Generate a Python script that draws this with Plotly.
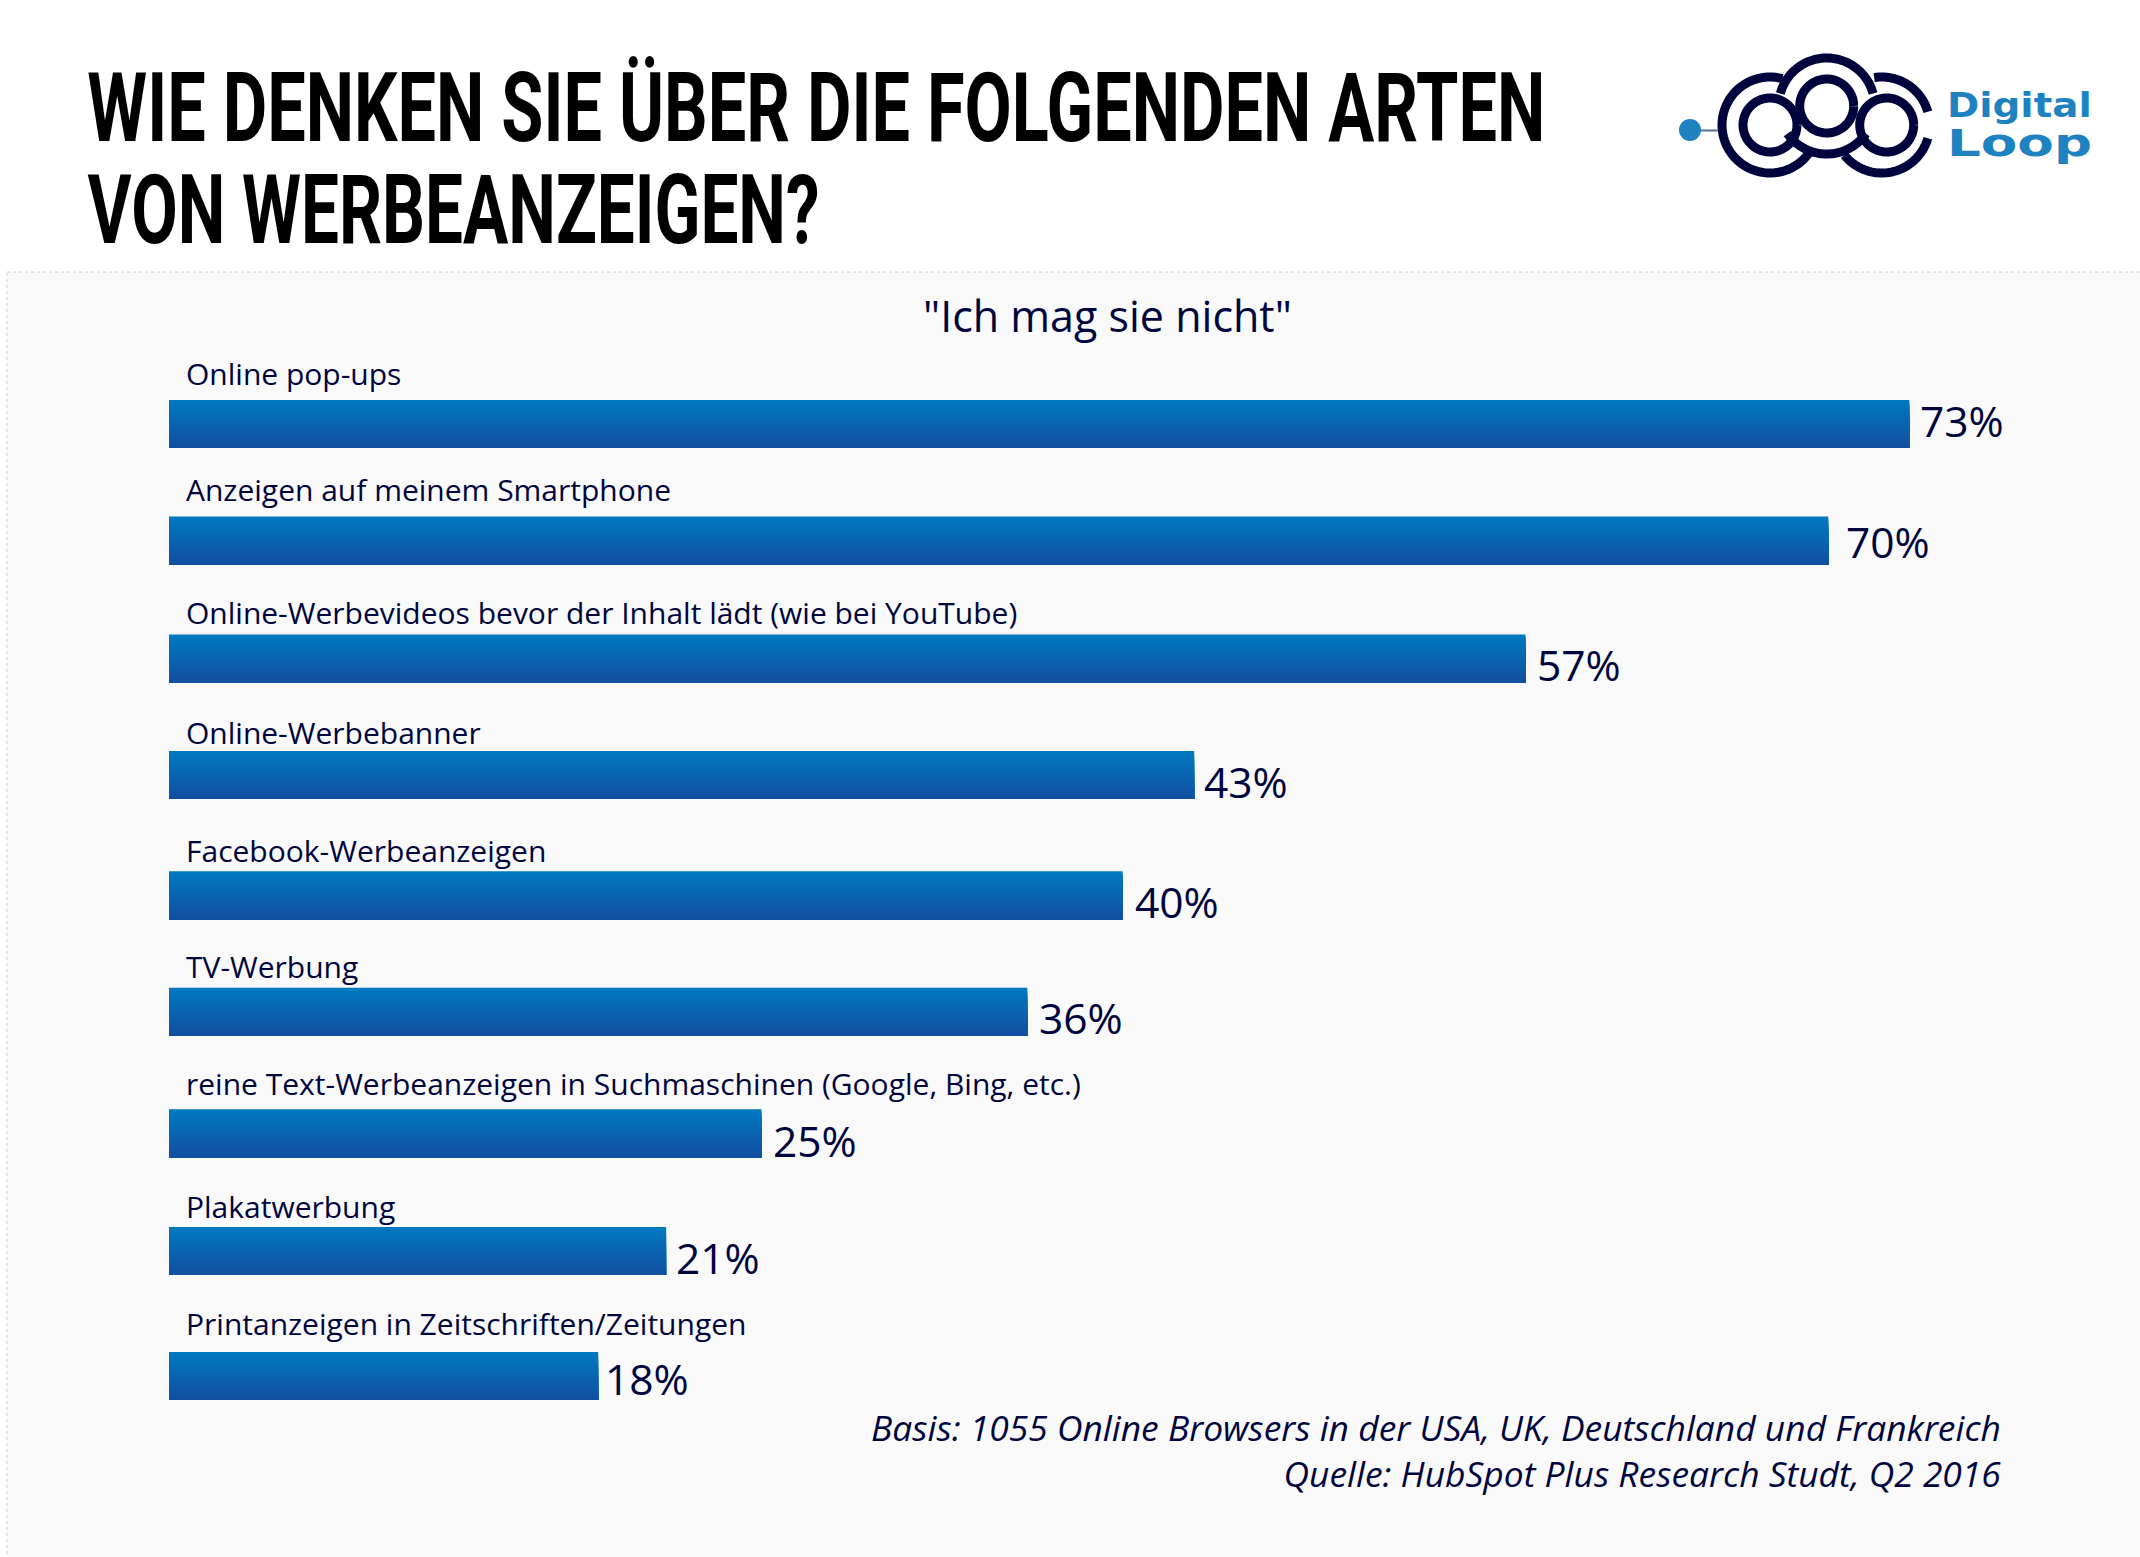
import numpy as np
import plotly.graph_objects as go

categories = [
    "Online pop-ups",
    "Anzeigen auf meinem Smartphone",
    "Online-Werbevideos bevor der Inhalt lädt (wie bei YouTube)",
    "Online-Werbebanner",
    "Facebook-Werbeanzeigen",
    "TV-Werbung",
    "reine Text-Werbeanzeigen in Suchmaschinen (Google, Bing, etc.)",
    "Plakatwerbung",
    "Printanzeigen in Zeitschriften/Zeitungen",
]
# bar lengths, the printed labels are rounded
values = [73, 69.6, 56.9, 43, 40, 36, 24.85, 20.85, 18]
value_labels = ["73%", "70%", "57%", "43%", "40%", "36%", "25%", "21%", "18%"]

# rows are not evenly spaced in the original
row_pos = [0, 0.98, 1.97, 2.95, 3.96, 4.94, 5.96, 6.95, 8]
label_lift = [51, 51, 46, 43, 45, 45, 50, 45, 53]
value_nudge_x = [9, 16, 9, 8, 10, 10, 10, 8, 5]
value_nudge_y = [4, -1, -6, -6, -6, -6, -7, -6, -2]

W, H = 2140, 1557
NAVY = "#00053e"
BLUE = "#1f82c0"
UNIT_PX = 23.84   # one percent
ROW_PX = 119
X0_PX = 169
ROW0_PX = 424
BAR_ROWS = 48 / ROW_PX
STRIPS = 24

fig = go.Figure()

# plotly bars have no gradient fill, so paint overlapping strips top to bottom
c_top = np.array([0, 121, 193])
c_bot = np.array([19, 79, 160])
for i in range(STRIPS):
    t = i / (STRIPS - 1)
    c = (c_top + (c_bot - c_top) * t).round().astype(int)
    start = BAR_ROWS * i / STRIPS
    fig.add_trace(go.Bar(
        x=values,
        y=row_pos,
        orientation='h',
        offset=-BAR_ROWS / 2 + start,
        width=BAR_ROWS - start,
        marker=dict(color=f"rgb({c[0]},{c[1]},{c[2]})", line=dict(width=0)),
        showlegend=False,
        hoverinfo='skip',
    ))

for name, r, lift in zip(categories, row_pos, label_lift):
    fig.add_annotation(
        x=0, y=r, xref='x', yref='y', text=name, showarrow=False,
        xanchor='left', yanchor='middle', xshift=14.5, yshift=lift,
        font=dict(family="Open Sans", size=30, color=NAVY),
    )

for v, lab, r, dx, dy in zip(values, value_labels, row_pos, value_nudge_x, value_nudge_y):
    fig.add_annotation(
        x=v, y=r, xref='x', yref='y', text=lab, showarrow=False,
        xanchor='left', yanchor='middle', xshift=dx, yshift=dy,
        font=dict(family="Open Sans", size=42.5, color=NAVY),
    )


def px(x):
    return x / W


def py(y):
    return 1 - y / H


def text_at(x, y, text, size, family="Open Sans", color=NAVY, anchor='left', weight=None):
    fig.add_annotation(
        x=px(x), y=py(y), xref='paper', yref='paper', text=text, showarrow=False,
        xanchor=anchor, yanchor='middle', align=anchor,
        font=dict(family=family, size=size, color=color, weight=weight),
    )


text_at(1107, 315, '"Ich mag sie nicht"', 43, anchor='center')
text_at(2003, 1450,
        "<i>Basis: 1055 Online Browsers in der USA, UK, Deutschland und Frankreich</i><br>"
        "<i>Quelle: HubSpot Plus Research Studt, Q2 2016</i>",
        35.4, anchor='right')

# title
TITLE_1 = "WIE DENKEN SIE ÜBER DIE FOLGENDEN ARTEN"
TITLE_2 = "VON WERBEANZEIGEN?"
text_at(816, 108, TITLE_1, 97, family="Roboto", color="#000000", anchor='center', weight=700)
text_at(453, 210, TITLE_2, 97, family="Roboto", color="#000000", anchor='center', weight=700)

# grey panel behind the chart
shapes = [dict(
    type='rect', xref='paper', yref='paper', x0=px(7), y0=py(272), x1=1.01, y1=-0.01,
    fillcolor="#f9f9f9", line=dict(color="#ccccdd", width=1, dash='dot'), layer='below',
)]


def arc(cx, cy, r, a0, a1):
    a = np.radians(np.linspace(a0, a1, 60))
    xs = cx + r * np.cos(a)
    ys = cy - r * np.sin(a)
    return "M" + "L".join(f"{px(x):.5f},{py(y):.5f}" for x, y in zip(xs, ys))


# logo
LOGO = "#00043c"
logo_arcs = [
    (1770, 125, 48, 75, 327),
    (1826.7, 106, 48, 15, 165),
    (1826.7, 106, 48, 215, 325),
    (1881.7, 125, 48, 16, 99),
    (1881.7, 125, 48, -141, -16),
    (1770, 125, 27, 0, 360),
    (1826.7, 106, 27, 0, 360),
    (1886.7, 125, 27, 0, 360),
]
for cx, cy, r, a0, a1 in logo_arcs:
    shapes.append(dict(type='path', xref='paper', yref='paper', path=arc(cx, cy, r, a0, a1),
                       line=dict(color=LOGO, width=9)))
shapes.append(dict(type='line', xref='paper', yref='paper', x0=px(1700), y0=py(130.5), x1=px(1718), y1=py(130.5),
                   line=dict(color="#5a6a90", width=2)))
shapes.append(dict(type='circle', xref='paper', yref='paper', x0=px(1679), y0=py(141), x1=px(1701), y1=py(119),
                   fillcolor=BLUE, line=dict(width=0)))
text_at(2019.5, 105, "Digital", 34, family="DejaVu Sans", color=BLUE, anchor='center', weight=700)
text_at(2019.5, 144, "Loop", 37, family="DejaVu Sans", color=BLUE, anchor='center', weight=700)

fig.update_layout(
    width=W,
    height=H,
    margin=dict(l=0, r=0, t=0, b=0),
    paper_bgcolor="white",
    plot_bgcolor="rgba(0,0,0,0)",
    barmode='overlay',
    shapes=shapes,
    showlegend=False,
    xaxis=dict(range=[-X0_PX / UNIT_PX, (W - X0_PX) / UNIT_PX], visible=False, fixedrange=True),
    yaxis=dict(range=[(H - ROW0_PX) / ROW_PX, -ROW0_PX / ROW_PX], visible=False, fixedrange=True),
)

# no condensed face is installed (the title is Oswald in the original), squeeze the glyphs to the right width
fit_widths = {TITLE_1: 1458, TITLE_2: 732, "Digital": 145, "Loop": 145}
post = """
document.body.style.margin = '0';
var fit = %s;
document.querySelectorAll('.annotation-text').forEach(function (t) {
    var w = fit[t.textContent];
    if (!w) return;
    var x = parseFloat(t.getAttribute('x')) || 0;
    var s = w / t.getComputedTextLength();
    t.setAttribute('transform', 'translate(' + x + ',0) scale(' + s + ',1) translate(' + (-x) + ',0)');
});
""" % str(fit_widths)

fig.write_html("out.html", post_script=post, config={'displayModeBar': False})
